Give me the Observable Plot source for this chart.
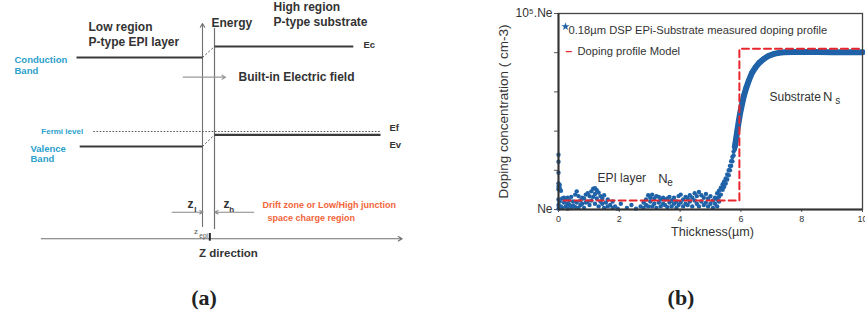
<!DOCTYPE html>
<html><head><meta charset="utf-8">
<script src="https://cdn.jsdelivr.net/npm/d3@7"></script>
<script src="https://cdn.jsdelivr.net/npm/@observablehq/plot@0.6"></script>
<style>
html,body{margin:0;padding:0;background:#fff;}
#fig{position:relative;width:865px;height:320px;overflow:hidden;font-family:"Liberation Sans",Arial,sans-serif;}
#panelA{position:absolute;left:0;top:0;}
#panelB{position:absolute;left:480px;top:0;}
.cap{position:absolute;top:298px;transform:translate(-50%,-50%);font-family:"Liberation Serif","DejaVu Serif",serif;font-weight:bold;font-size:22px;color:#222;}
</style></head><body>
<div id="fig"><div id="panelA"></div><div id="panelB"></div>
<div class="cap" style="left:204px">(a)</div><div class="cap" style="left:681px">(b)</div></div>
<script>
// ---------- Panel (a): band diagram (z in arbitrary units, E in arbitrary energy units, Ef = 0) ----------
const conductionBand = [{z1:-33, z2:-1.5, E:7.4}, {z1:1.5, z2:36.2, E:8.5}];
const valenceBand = [{z1:-32.2, z2:-1.5, E:-1.5}, {z1:1.5, z2:43, E:-0.33}];
const fermiLevel = [{z1:-28.8, z2:43, E:0}];
const bandBends = [{z1:-1.5, E1:7.4, z2:1.5, E2:8.5}, {z1:-1.5, E1:-1.5, z2:1.5, E2:-0.33}];
const regionBoundary = [{z:1.5, E1:-9.8, E2:10.3}];
const energyAxis = [{z1:-1.5, E1:-9.5, z2:-1.5, E2:10.8}];
const zAxis = [{z1:-41.8, E1:-10.73, z2:48.4, E2:-10.73}];
const fieldArrow = [{z1:-6.3, z2:4.25, E:5.43}];
const depletionArrows = [{z1:-9.1, z2:-1.4, E:-8.07}, {z1:11.3, z2:1.6, E:-8.07}];
const zEpiTick = [{z:0.33, E1:-10.2, E2:-10.97}];

const headingLabels = [
  {label:"Low region", z:-30, E:10.4},
  {label:"P-type EPI layer", z:-30, E:8.9},
  {label:"High region", z:16.25, E:12.4},
  {label:"P-type substrate", z:16.25, E:10.9},
  {label:"Energy", z:0.75, E:10.8},
  {label:"Built-in Electric field", z:7.5, E:5.45}
];
const axisTitleA = [{label:"Z direction", z:5, E:-12.2}];
const bandNames = [
  {label:"Conduction", z:-48.5, E:7.2},
  {label:"Band", z:-48.5, E:6.1},
  {label:"Valence", z:-44.5, E:-1.7},
  {label:"Band", z:-44.5, E:-2.75}
];
const fermiName = [{label:"Fermi level", z:-41.8, E:0}];
const levelNames = [
  {label:"Ec", z:38.75, E:8.65},
  {label:"Ef", z:45.25, E:0.33},
  {label:"Ev", z:45.25, E:-1.3}
];
const zoneNames = [
  {label:"Drift zone or Low/High junction", z:13.5, E:-7.4},
  {label:"space charge region", z:14.75, E:-8.7}
];
const zMain = [{label:"z", z:-5.25, E:-7.3}, {label:"z", z:3.75, E:-7.3}];
const zSub = [{label:"l", z:-3.55, E:-7.75}, {label:"h", z:5.2, E:-7.75}];
const zEpiMain = [{label:"z", z:-3.6, E:-10.0}];
const zEpiSub = [{label:"epi", z:-2.3, E:-10.45}];

const dark = "#333", lineDark = "#3a3a3a", cyan = "#2aa0cc", orange = "#f2643a", grey = "#707070";

const plotA = Plot.plot({
  width: 420, height: 265,
  marginLeft: 0, marginRight: 0, marginTop: 0, marginBottom: 0,
  x: {domain: [-52, 53], axis: null},
  y: {domain: [-13.4, 13.1], axis: null},
  style: {fontFamily: '"Liberation Sans", Arial, sans-serif', background: "white"},
  marks: [
    Plot.arrow(zAxis, {x1:"z1", y1:"E1", x2:"z2", y2:"E2", stroke: grey, strokeWidth: 1.1, headLength: 6, inset: 0}),
    Plot.arrow(energyAxis, {x1:"z1", y1:"E1", x2:"z2", y2:"E2", stroke: grey, strokeWidth: 1.1, headLength: 6, inset: 0}),
    Plot.ruleX(regionBoundary, {x:"z", y1:"E1", y2:"E2", stroke: grey, strokeWidth: 1.2}),
    Plot.ruleX(zEpiTick, {x:"z", y1:"E1", y2:"E2", stroke: "#222", strokeWidth: 2}),
    Plot.link(fermiLevel, {x1:"z1", x2:"z2", y1:"E", y2:"E", stroke: "#555", strokeWidth: 1.2, strokeDasharray: "1.6,1.6"}),
    Plot.link(conductionBand, {x1:"z1", x2:"z2", y1:"E", y2:"E", stroke: lineDark, strokeWidth: 2.2}),
    Plot.link(valenceBand, {x1:"z1", x2:"z2", y1:"E", y2:"E", stroke: lineDark, strokeWidth: 2.2}),
    Plot.link(bandBends, {x1:"z1", y1:"E1", x2:"z2", y2:"E2", stroke: "#555", strokeWidth: 1, strokeDasharray: "2,2"}),
    Plot.arrow(fieldArrow, {x1:"z1", x2:"z2", y1:"E", y2:"E", stroke: "#999", strokeWidth: 1.2, headLength: 5, inset: 0}),
    Plot.arrow(depletionArrows, {x1:"z1", x2:"z2", y1:"E", y2:"E", stroke: "#888", strokeWidth: 1.1, headLength: 5, inset: 0}),
    Plot.text(headingLabels, {x:"z", y:"E", text:"label", textAnchor:"start", fontWeight:"bold", fontSize: 12, fill: dark}),
    Plot.text(axisTitleA, {x:"z", y:"E", text:"label", textAnchor:"middle", fontWeight:"bold", fontSize: 11.5, fill: dark}),
    Plot.text(bandNames, {x:"z", y:"E", text:"label", textAnchor:"start", fontWeight:"bold", fontSize: 9.5, fill: cyan}),
    Plot.text(fermiName, {x:"z", y:"E", text:"label", textAnchor:"start", fontWeight:"bold", fontSize: 8, fill: cyan}),
    Plot.text(levelNames, {x:"z", y:"E", text:"label", textAnchor:"start", fontWeight:"bold", fontSize: 9.5, fill: dark}),
    Plot.text(zoneNames, {x:"z", y:"E", text:"label", textAnchor:"start", fontWeight:"bold", fontSize: 9, fill: orange}),
    Plot.text(zMain, {x:"z", y:"E", text:"label", textAnchor:"start", fontWeight:"bold", fontSize: 12, fill: dark}),
    Plot.text(zSub, {x:"z", y:"E", text:"label", textAnchor:"start", fontWeight:"bold", fontSize: 8, fill: dark}),
    Plot.text(zEpiMain, {x:"z", y:"E", text:"label", textAnchor:"start", fontSize: 8, fill: "#555"}),
    Plot.text(zEpiSub, {x:"z", y:"E", text:"label", textAnchor:"start", fontSize: 6.5, fill: "#555"})
  ]
});
document.getElementById("panelA").appendChild(plotA);

// ---------- Panel (b): doping profile (concentration in units of Ne) ----------
const xTicks = [0, 2, 4, 6, 8, 10];
const yTicks = [1, 10, 100, 1000, 10000, 100000];
const yTickLabels = ["Ne", "", "", "", "", "10⁵.Ne"];

// measured points, EPI layer and start of transition: [thickness µm, N/Ne]
const epiMeasured = [
  [0,25],[0,16.5],[0,8.7],[0,4.6],[0,3.8],[0,3.3],[0,1.8],[0,1.3],[0,1.05],
  [0.04,4.2],[0.04,3.5],[0.04,1.6],[0.08,3.0],[0.08,1.2],[0.12,1.9],[0.12,1.1],
  [0.18,1.5],[0.18,2.0],[0.24,1.2],[0.24,1.8],[0.30,2.0],[0.30,1.4],[0.30,1.05],
  [0.36,1.3],[0.36,1.7],[0.42,1.1],[0.42,2.1],[0.48,1.6],[0.48,1.25],[0.55,2.4],[0.55,1.15],
  [0.60,2.9],[0.60,1.5],[0.66,2.2],[0.66,1.1],[0.72,1.7],[0.72,1.3],[0.78,1.4],[0.78,2.0],
  [0.84,1.9],[0.84,1.1],[0.90,2.4],[0.90,1.5],[0.96,1.6],[0.96,2.6],[1.02,1.3],[1.02,2.2],
  [1.08,2.9],[1.08,1.7],[1.14,3.4],[1.14,2.1],[1.20,3.5],[1.20,2.5],[1.20,1.4],
  [1.26,3.1],[1.26,1.9],[1.32,2.7],[1.32,1.2],[1.38,2.2],[1.38,1.6],[1.44,1.4],[1.44,1.9],
  [1.50,2.3],[1.50,1.1],[1.56,1.5],[1.62,1.8],[1.62,1.2],[1.70,1.3],[1.78,1.6],[1.78,1.1],
  [1.86,1.2],[1.95,1.05],[2.05,1.4],[2.25,1.1],[2.40,1.3],[2.55,1.05],[2.70,1.2],
  [2.80,1.5],[2.80,1.1],[2.88,1.3],[2.88,1.8],[2.95,2.3],[2.95,1.2],[3.02,1.6],[3.02,2.0],
  [3.08,1.2],[3.08,2.4],[3.15,1.9],[3.15,1.4],[3.22,2.2],[3.22,1.1],[3.30,1.5],[3.30,2.1],
  [3.36,1.8],[3.36,1.2],[3.44,2.0],[3.44,1.4],[3.50,1.3],[3.50,1.8],[3.58,1.9],[3.58,1.15],
  [3.65,1.5],[3.65,2.1],[3.72,1.2],[3.72,1.7],[3.80,2.0],[3.80,1.4],[3.88,1.6],[3.88,1.1],
  [3.95,2.2],[3.95,1.3],[4.02,1.5],[4.02,2.4],[4.10,1.8],[4.10,1.2],[4.18,2.1],[4.18,1.4],
  [4.25,1.3],[4.25,1.9],[4.32,2.3],[4.32,1.6],[4.40,1.2],[4.40,2.0],[4.48,1.7],[4.48,2.6],
  [4.55,1.4],[4.55,2.2],[4.62,2.8],[4.62,1.2],[4.70,1.6],[4.70,2.3],[4.78,2.0],[4.78,1.3],
  [4.85,2.5],[4.85,1.5],[4.92,1.2],[4.92,1.9],[5.00,2.2],[5.00,1.4],[5.08,1.7],[5.08,1.1],
  [5.15,1.4],[5.15,2.0],[5.22,1.2],[5.22,1.8],[5.22,2.6],[5.28,2.1],[5.28,1.6],[5.28,3.0],
  [5.34,2.4],[5.34,3.6],[5.40,3.2],[5.40,4.4],[5.45,3.8],[5.45,5.2],[5.50,4.6],[5.50,6.2],
  [5.55,5.8],[5.55,7.8],[5.60,7.5],[5.60,10],[5.64,10],[5.64,13],[5.68,13],[5.68,17],
  [5.72,17],[5.72,22],[5.76,24],[5.76,30],[5.80,34],[5.80,42]
];
// measured points, dense transition and substrate plateau: [thickness µm, N/Ne]
const substrateMeasured = [
  [5.80,40],[5.84,62],[5.88,100],[5.93,180],[5.99,330],[6.05,540],[6.10,800],[6.18,1300],
  [6.26,1950],[6.36,3000],[6.48,4200],[6.60,5500],[6.75,6900],[6.90,8200],[7.08,9300],
  [7.25,9900],[7.41,10200],[7.70,10400],[8.00,10400],[8.50,10400],[9.00,10300],[9.50,10300],[10.00,10300]
];
// doping profile model (abrupt step): [thickness µm, N/Ne]
const modelProfile = [[0.17,1.7],[5.95,1.7],[5.95,12600],[10,12600]];

const legendLabels = ["0.18µm DSP EPi-Substrate measured doping profile", "Doping profile Model"];
const regionLabels = [{label:"Substrate", x:6.94, y:720}, {label:"EPI layer", x:1.28, y:6.2}];
const nMain = [{label:"N", x:8.7, y:740}, {label:"N", x:3.28, y:6.2}];
const nSub = [{label:"s", x:9.1, y:580}, {label:"e", x:3.58, y:4.9}];

const blue = "#1f62a8", red = "#e8262e";

const plotB = Plot.plot({
  width: 385, height: 245,
  marginLeft: 78, marginRight: 3, marginTop: 13, marginBottom: 36,
  x: {domain: [0, 10]},
  y: {type: "log", domain: [1, 1e5]},
  style: {fontFamily: '"Liberation Sans", Arial, sans-serif', color: "#333", background: "white"},
  marks: [
    Plot.axisY({ticks: yTicks, tickFormat: d => yTickLabels[yTicks.indexOf(d)] ?? "", tickSize: 4, tickPadding: 2, fontSize: 12, label: null, stroke: "#555"}),
    Plot.axisX({ticks: xTicks, tickSize: 3, tickPadding: 3, fontSize: 9, label: null, stroke: "#555"}),
    Plot.dot(epiMeasured, {x: d => d[0], y: d => d[1], r: 2.2, fill: blue, stroke: "none"}),
    Plot.line(substrateMeasured, {x: d => d[0], y: d => d[1], stroke: blue, strokeWidth: 6, strokeLinecap: "round", strokeLinejoin: "round"}),
    Plot.dot(substrateMeasured, {x: d => d[0], y: d => d[1], r: 2.6, fill: blue, stroke: "none"}),
    Plot.line(modelProfile, {x: d => d[0], y: d => d[1], stroke: red, strokeWidth: 2, strokeDasharray: "7,4"}),
    Plot.frame({stroke: "#444", strokeWidth: 1.3}),
    Plot.ruleY([1], {stroke: "#333", strokeWidth: 2}),
    Plot.ruleX([0], {stroke: "#333", strokeWidth: 2}),
    Plot.text(["Thickness(µm)"], {frameAnchor: "bottom", dy: 26, dx: 2, textAnchor: "middle", fontSize: 12.6, fill: "#333"}),
    Plot.text(["Doping concentration ( cm-3)"], {frameAnchor: "left", rotate: -90, dx: -55, textAnchor: "middle", fontSize: 13.5, fill: "#333"}),
    Plot.dot([legendLabels[0]], {frameAnchor: "top-left", dx: 7, dy: 13, symbol: "star", r: 2.6, fill: blue}),
    Plot.text([legendLabels[0]], {frameAnchor: "top-left", dx: 10, dy: 13, textAnchor: "start", fontSize: 11.2, fill: "#333"}),
    Plot.text(["–"], {frameAnchor: "top-left", dx: 7, dy: 33, textAnchor: "start", fontSize: 12, fontWeight: "bold", fill: red}),
    Plot.text([legendLabels[1]], {frameAnchor: "top-left", dx: 19, dy: 34, textAnchor: "start", fontSize: 11.2, fill: "#333"}),
    Plot.text(regionLabels, {x: "x", y: "y", text: "label", textAnchor: "start", fontSize: 12, fill: "#333"}),
    Plot.text(nMain, {x: "x", y: "y", text: "label", textAnchor: "start", fontSize: 13, fill: "#333"}),
    Plot.text(nSub, {x: "x", y: "y", text: "label", textAnchor: "start", fontSize: 10, fill: "#333"})
  ]
});
document.getElementById("panelB").appendChild(plotB);
</script>
</body></html>
